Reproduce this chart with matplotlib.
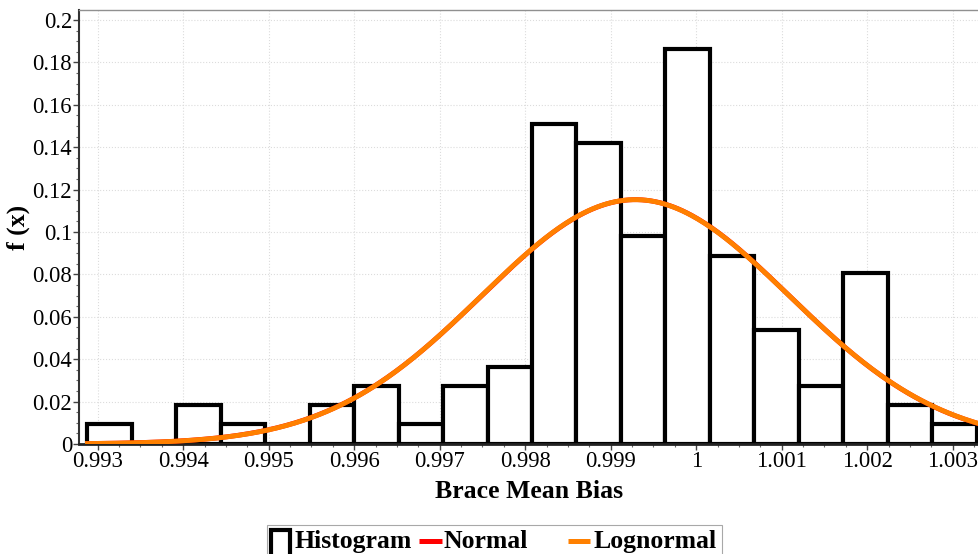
import numpy as np
import matplotlib
matplotlib.use("Agg")
import matplotlib.pyplot as plt
from matplotlib.patches import Rectangle
from matplotlib.lines import Line2D
from matplotlib.ticker import MultipleLocator, FuncFormatter

# histograma (densidad relativa por clase)
bin_start = 0.99288
bin_width = 0.00052
heights = [0.0093, 0.0, 0.0184, 0.0093, 0.0, 0.0184, 0.0274, 0.0093, 0.0274, 0.0365,
           0.1508, 0.1418, 0.0980, 0.1862, 0.0888, 0.0538, 0.0274, 0.0805, 0.0184, 0.0093]

# parametros ajustados
mu = 0.99929
sigma = 0.00180
legend_labels = ["Histogram", "Normal", "Lognormal"]

lefts = bin_start + bin_width * np.arange(len(heights))

x = np.linspace(bin_start, 1.00340, 400)
normal = bin_width * np.exp(-(x - mu) ** 2 / (2 * sigma ** 2)) / (sigma * np.sqrt(2 * np.pi))
s_log = sigma / mu
m_log = np.log(mu)
lognormal = bin_width * np.exp(-(np.log(x) - m_log) ** 2 / (2 * s_log ** 2)) / (x * s_log * np.sqrt(2 * np.pi))

serif = "Liberation Serif"
W, H = 979, 554

fig = plt.figure(figsize=(W / 100, H / 100), dpi=100)
ax = fig.add_axes([79 / W, 110 / H, 900 / W, 434 / H])

ax.bar(lefts, heights, width=bin_width, align="edge", color="white",
       edgecolor="black", linewidth=3, joinstyle="miter", zorder=2)
ax.plot(x, normal, color="red", lw=3.5, zorder=3)
ax.plot(x, lognormal, color="#ff8000", lw=3.5, zorder=4)

ax.set_xlim(0.992781, 1.003308)
ax.set_ylim(0, 0.2047)

ax.xaxis.set_major_locator(MultipleLocator(0.001))
ax.xaxis.set_minor_locator(MultipleLocator(0.00025))
ax.yaxis.set_major_locator(MultipleLocator(0.02))
ax.yaxis.set_minor_locator(MultipleLocator(0.005))
fmt = FuncFormatter(lambda v, p: "%g" % round(v, 6))
ax.xaxis.set_major_formatter(fmt)
ax.yaxis.set_major_formatter(fmt)

ax.tick_params(which="major", direction="out", length=4, width=1, color="#444444",
               labelsize=16.3, pad=1)
ax.tick_params(which="minor", direction="out", length=2.5, width=0.8, color="#666666")
for lab in ax.get_xticklabels() + ax.get_yticklabels():
    lab.set_fontfamily(serif)

ax.grid(True, which="major", color="#dcdcdc", linestyle=":", linewidth=0.8)
ax.set_axisbelow(True)

ax.spines["right"].set_visible(False)
ax.spines["top"].set_color("#909090")
ax.spines["top"].set_linewidth(1)
ax.spines["left"].set_color("#333333")
ax.spines["left"].set_linewidth(1.5)
ax.spines["bottom"].set_color("#222222")
ax.spines["bottom"].set_linewidth(2)

ax.set_xlabel("Brace Mean Bias", fontsize=18.5, fontweight="bold", family=serif, labelpad=6)
ax.set_ylabel("f (x)", fontsize=18.5, fontweight="bold", family=serif, labelpad=2)

# leyenda dibujada a mano (columnas de igual ancho, cortada abajo como el original)
def fx(px):
    return px / W

def fy(py):
    return 1 - py / H

tf = fig.transFigure
fig.add_artist(Rectangle((fx(266.7), fy(575)), fx(722.3) - fx(266.7), fy(525) - fy(575),
                         transform=tf, facecolor="white", edgecolor="#a8a8a8", lw=0.8))
fig.add_artist(Rectangle((fx(271.3), fy(566)), fx(289.7) - fx(271.3), fy(529.7) - fy(566),
                         transform=tf, facecolor="white", edgecolor="black", lw=3,
                         joinstyle="miter"))
fig.add_artist(Line2D([fx(419.3), fx(441.7)], [fy(541), fy(541)], transform=tf,
                      color="red", lw=3.6, solid_capstyle="butt"))
fig.add_artist(Line2D([fx(568.3), fx(590)], [fy(541), fy(541)], transform=tf,
                      color="#ff8000", lw=3.6, solid_capstyle="butt"))
for xpos, txt in zip([294.3, 443.3, 593.3], legend_labels):
    fig.text(fx(xpos), fy(548.3), txt, ha="left", va="baseline", family=serif,
             fontweight="bold", fontsize=18.5)

fig.savefig("out.png", dpi=100)
